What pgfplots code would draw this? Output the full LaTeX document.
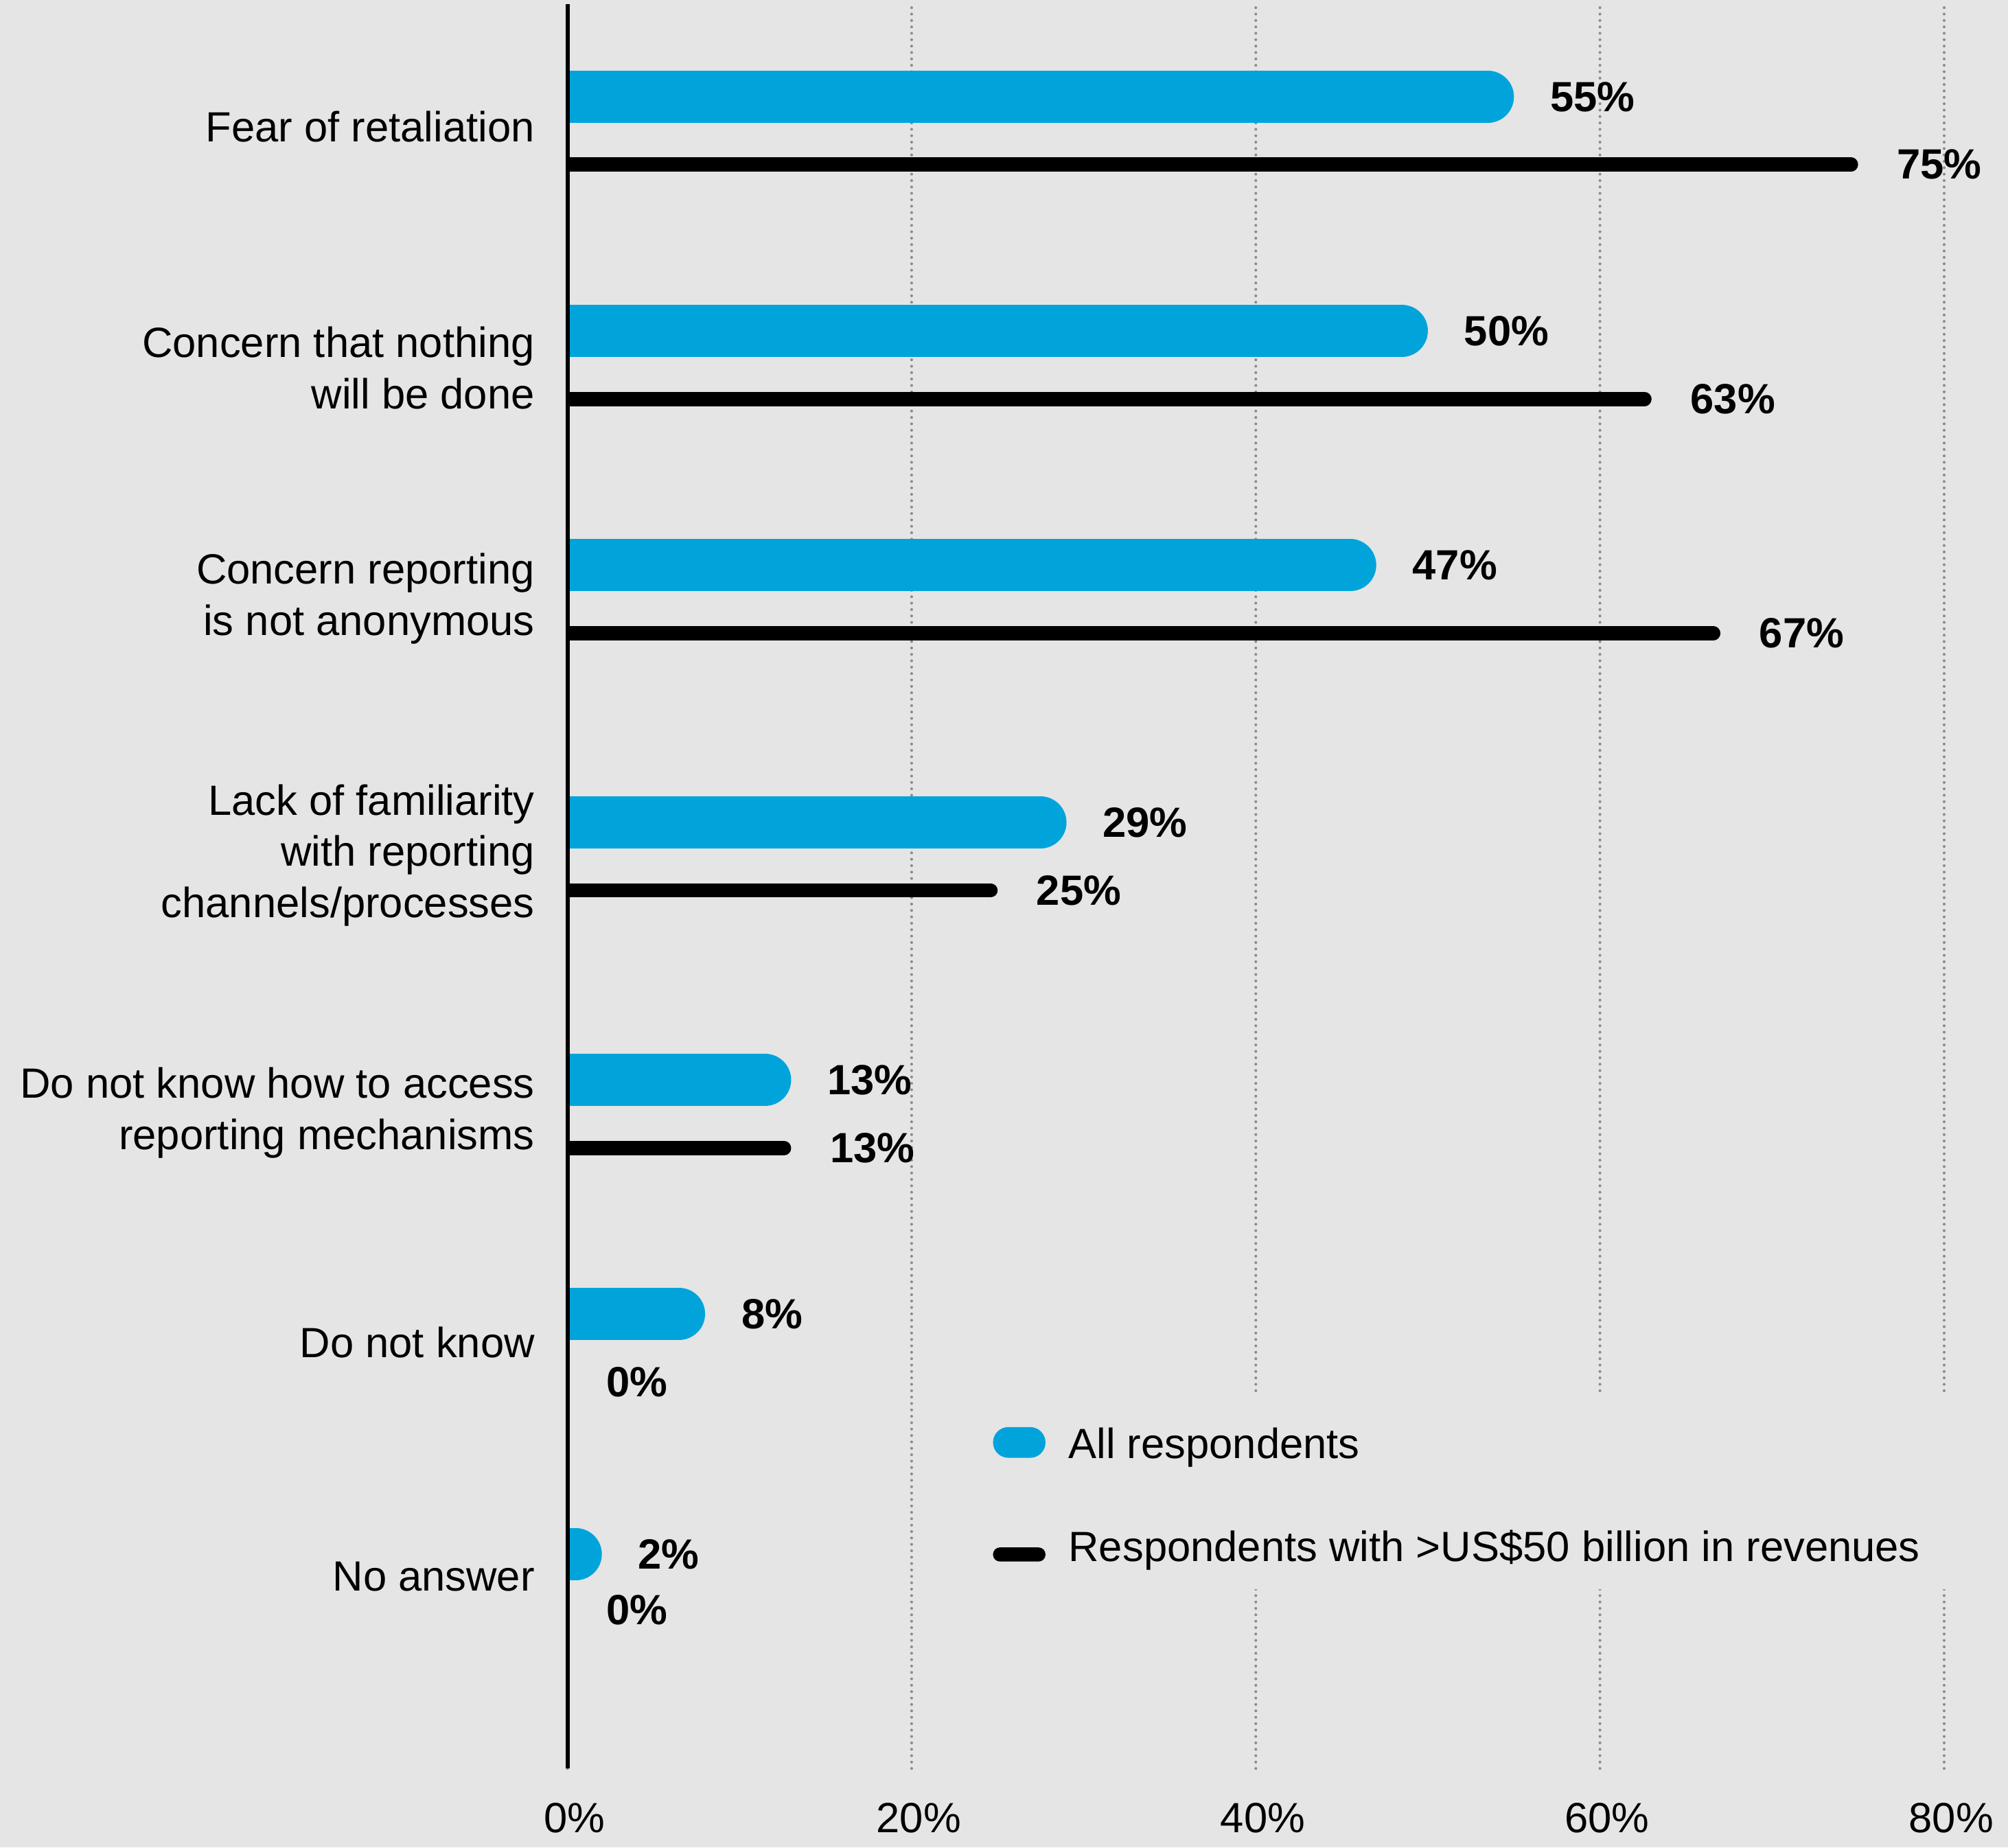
\documentclass[border=0pt]{standalone}
\usepackage{fontspec}
\setmainfont{Liberation Sans}
\usepackage{pgfplots}
\pgfplotsset{compat=1.18}
\usetikzlibrary{backgrounds}
\definecolor{kblue}{RGB}{0,164,218}
\definecolor{bgc}{RGB}{229,229,229}
\definecolor{gridc}{RGB}{140,140,140}
\newcommand\lbl{\fontsize{16.5}{20}\selectfont}
\newcommand\vlbl{\bfseries\fontsize{16.5}{20}\selectfont}
% one bar: value, position
\newcommand\bbar[2]{\addplot[forget plot, draw=kblue, line width=20.4pt, line cap=round, shorten >=10.2pt] coordinates {(0,#2) (#1,#2)};}
\newcommand\kbar[2]{\addplot[forget plot, draw=black, line width=5.5pt, line cap=round, shorten >=2.75pt] coordinates {(0,#2) (#1,#2)};}
\begin{document}
\begin{tikzpicture}
\begin{axis}[
  x=6.719pt, y=0.5pt,
  xmin=0, xmax=83.711, ymin=-1381, ymax=-3,
  axis line style={draw=none},
  clip mode=individual,
  major tick length=0pt,
  xtick={0,20,40,60,80},
  xticklabels={0\%,20\%,40\%,60\%,80\%},
  xticklabel style={anchor=north, inner sep=0pt, yshift=-13.3pt, xshift=2.75pt, font=\lbl},
  xmajorgrids,
  grid style={gridc, line width=1.1pt, line cap=round, dash pattern=on 0pt off 2.5pt},
  ytick={-1231,-1048,-865.5,-664.4,-464,-287.2,-98.5},
  yticklabels={No answer, Do not know, {Do not know how to access\\reporting mechanisms}, {Lack of familiarity\\with reporting\\channels/processes}, {Concern reporting\\is not anonymous}, {Concern that nothing\\will be done}, Fear of retaliation},
  yticklabel style={anchor=east, align=right, inner sep=0pt, xshift=-12.6pt, text depth=0pt, font=\lbl},
  /pgf/number format/assume math mode=true,
  legend style={at={(axis cs:24.70,-1114)}, anchor=north west, draw=none, fill=none, inner sep=0pt, row sep=24.25pt, column sep=9pt, font=\lbl, nodes={inner sep=0pt, text height=12pt, text depth=4pt}},
  legend cell align=left,
]
% backdrop of the legend, interrupting the grid lines
\fill[bgc] (axis cs:23.6,-1089) rectangle (axis cs:81.6,-1241);

% All respondents
\bbar{55}{-75.6}
\bbar{50}{-258.3}
\bbar{47}{-441.4}
\bbar{29}{-642.2}
\bbar{13}{-843.3}
\bbar{8}{-1026}
\bbar{2}{-1213.7}
% Respondents with >US$50 billion in revenues
\kbar{75}{-128.5}
\kbar{63}{-311.6}
\kbar{67}{-494.5}
\kbar{25}{-695.3}
\kbar{13}{-896.6}

\addplot[forget plot, draw=none, point meta=x,
  nodes near coords={\pgfmathprintnumber{\pgfplotspointmeta}\%},
  nodes near coords align=horizontal,
  every node near coord/.append style={anchor=west, inner sep=0pt, xshift=14pt, font=\vlbl}]
  coordinates {(55,-75.6) (50,-258.3) (47,-441.4) (29,-642.2) (13,-843.3) (8,-1026) (2,-1213.7)};
\addplot[forget plot, draw=none, point meta=x,
  nodes near coords={\pgfmathprintnumber{\pgfplotspointmeta}\%},
  nodes near coords align=horizontal,
  every node near coord/.append style={anchor=west, inner sep=0pt, xshift=15pt, font=\vlbl}]
  coordinates {(75,-128.5) (63,-311.6) (67,-494.5) (25,-695.3) (13,-896.6) (0,-1079.5) (0,-1257)};

\addlegendimage{legend image code/.code={\path[draw=none,fill=none] (0pt,-6pt) rectangle (20.5pt,6pt); \fill[kblue, draw=none, rounded corners=6pt] (0pt,-3.8pt) rectangle (20.5pt,8.2pt);}}
\addlegendentry{All respondents}
\addlegendimage{legend image code/.code={\path[draw=none,fill=none] (0pt,-6pt) rectangle (20.5pt,6pt); \fill[black, draw=none, rounded corners=2.7pt] (0pt,-4.05pt) rectangle (20.5pt,1.45pt);}}
\addlegendentry{Respondents with >US\$50 billion in revenues}

\draw[line width=1.6pt] (axis cs:0,-3) -- (axis cs:0,-1381);
\coordinate (BL) at (axis cs:-32.974,-1442.6);
\coordinate (TR) at (axis cs:83.711,0);
\end{axis}
\pgfresetboundingbox
\path[use as bounding box] (BL) rectangle (TR);
\begin{scope}[on background layer]
\fill[bgc] (BL) rectangle (TR);
\end{scope}
\end{tikzpicture}
\end{document}
